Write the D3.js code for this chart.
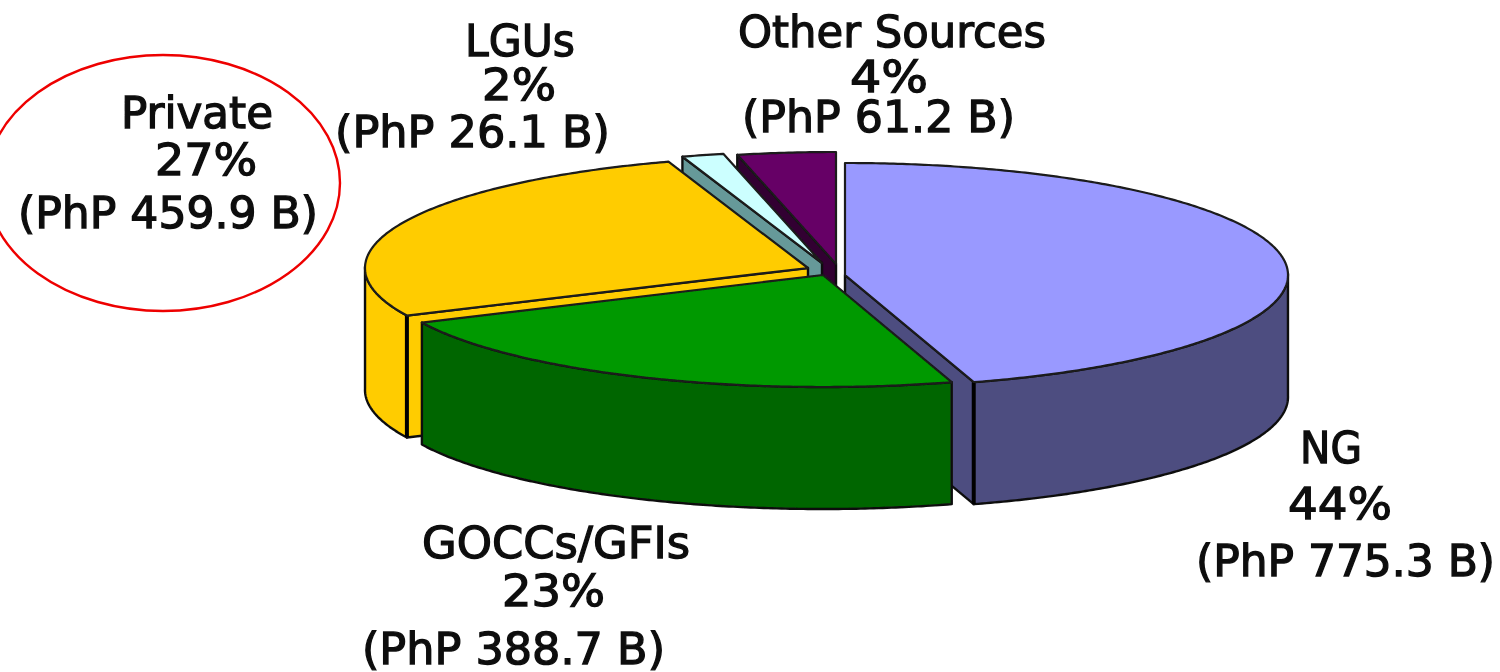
<!DOCTYPE html>
<html><head><meta charset="utf-8">
<script src="https://cdnjs.cloudflare.com/ajax/libs/d3/7.8.5/d3.min.js"></script>
<style>html,body{margin:0;padding:0;background:#fff;overflow:hidden}svg{display:block}text{font-family:"DejaVu Sans";fill:#111;text-rendering:geometricPrecision}</style>
</head><body><svg id="c" width="1500" height="672"></svg>
<script>
// Data
const categories = ["NG","GOCCs/GFIs","Private","LGUs","Other Sources"];
const amounts = [775.3,388.7,459.9,26.1,61.2];
const percents = ["44%","23%","27%","2%","4%"];
const amountLabels = ["(PhP 775.3 B)","(PhP 388.7 B)","(PhP 459.9 B)","(PhP 26.1 B)","(PhP 61.2 B)"];
const topColors = ["#9999FF","#009900","#FFCC00","#CCFFFF","#660066"];
const sideColors = ["#4D4D80","#006600","#FFCC00","#669999","#330033"];

// Layout
const rx=443, ry=112, depth=122;
const centers=[[845,275],[823,275],[808,268],[822,263],[836,264]];
const drawOrder=[4,3,2,0,1];
const labelPos=[
 [[1300,463],[1288,519],[1196,576]],
 [[422,558],[502,606],[362,664]],
 [[121,128],[155,175],[18,228]],
 [[465,56],[482,100],[335,147]],
 [[738,47],[850,92],[742,132]]
];
const labelWidths=[[62,104,299],[268,103,303],[152,102,300],[110,74,275],[308,78,273]];

const svg=d3.select("#c");
const defs=svg.append("defs");
defs.append("filter").attr("id","soft").append("feGaussianBlur").attr("stdDeviation",0.55);
const root=svg.append("g").attr("filter","url(#soft)");

const arcs=d3.pie().sort(null).value(d=>d)(amounts);
const line=d3.line();
function rim(c,t,dz=0){return [c[0]+rx*Math.sin(t), c[1]-ry*Math.cos(t)+dz];}
function samples(a,b){const n=Math.max(2,Math.ceil((b-a)/0.01));return d3.range(n+1).map(i=>a+(b-a)*i/n);}

drawOrder.forEach(i=>{
  const a=arcs[i], c=centers[i], g=root.append("g").attr("class","slice");
  const t0=a.startAngle,t1=a.endAngle;
  const edge=samples(t0,t1);
  const side=(pts,w)=>g.append("path").attr("d",line(pts)+"Z").attr("fill",sideColors[i])
     .attr("stroke","#111").attr("stroke-width",w).attr("stroke-linejoin","round");
  // cut faces that face the viewer
  if(Math.sin(t0)<-1e-6) side([c,rim(c,t0),rim(c,t0,depth),[c[0],c[1]+depth]],2.4);
  if(Math.sin(t1)>1e-6) side([c,rim(c,t1),rim(c,t1,depth),[c[0],c[1]+depth]],2.4);
  // outer wall
  const vis=edge.filter(t=>Math.cos(t)<=0.02);
  if(vis.length>1){
    side(vis.map(t=>rim(c,t)).concat(vis.slice().reverse().map(t=>rim(c,t,depth))),2.4);
    // heavy vertical corner where a wall meets a visible cut face
    [[t0,Math.sin(t0)<0],[t1,Math.sin(t1)>0]].forEach(([t,show])=>{
      if(show && i!==1) g.append("path").attr("d",line([rim(c,t),rim(c,t,depth)])).attr("stroke","#000").attr("stroke-width",4).attr("fill","none");
    });
  }
  // top
  g.append("path").attr("d",line([c].concat(edge.map(t=>rim(c,t))))+"Z")
    .attr("fill",topColors[i]).attr("stroke","#1a1a1a").attr("stroke-width",2.2).attr("stroke-linejoin","round");
});

// labels
categories.forEach((name,i)=>{
  [name,percents[i],amountLabels[i]].forEach((s,j)=>{
    root.append("text").attr("x",labelPos[i][j][0]).attr("y",labelPos[i][j][1])
      .attr("font-size",44).attr("stroke","#111").attr("stroke-width",1.3)
      .attr("textLength",labelWidths[i][j]).attr("lengthAdjust","spacingAndGlyphs").text(s);
  });
});
// highlight ring
root.append("ellipse").attr("cx",163).attr("cy",183).attr("rx",177).attr("ry",128)
  .attr("fill","none").attr("stroke","#EE0000").attr("stroke-width",2.4);
</script></body></html>
